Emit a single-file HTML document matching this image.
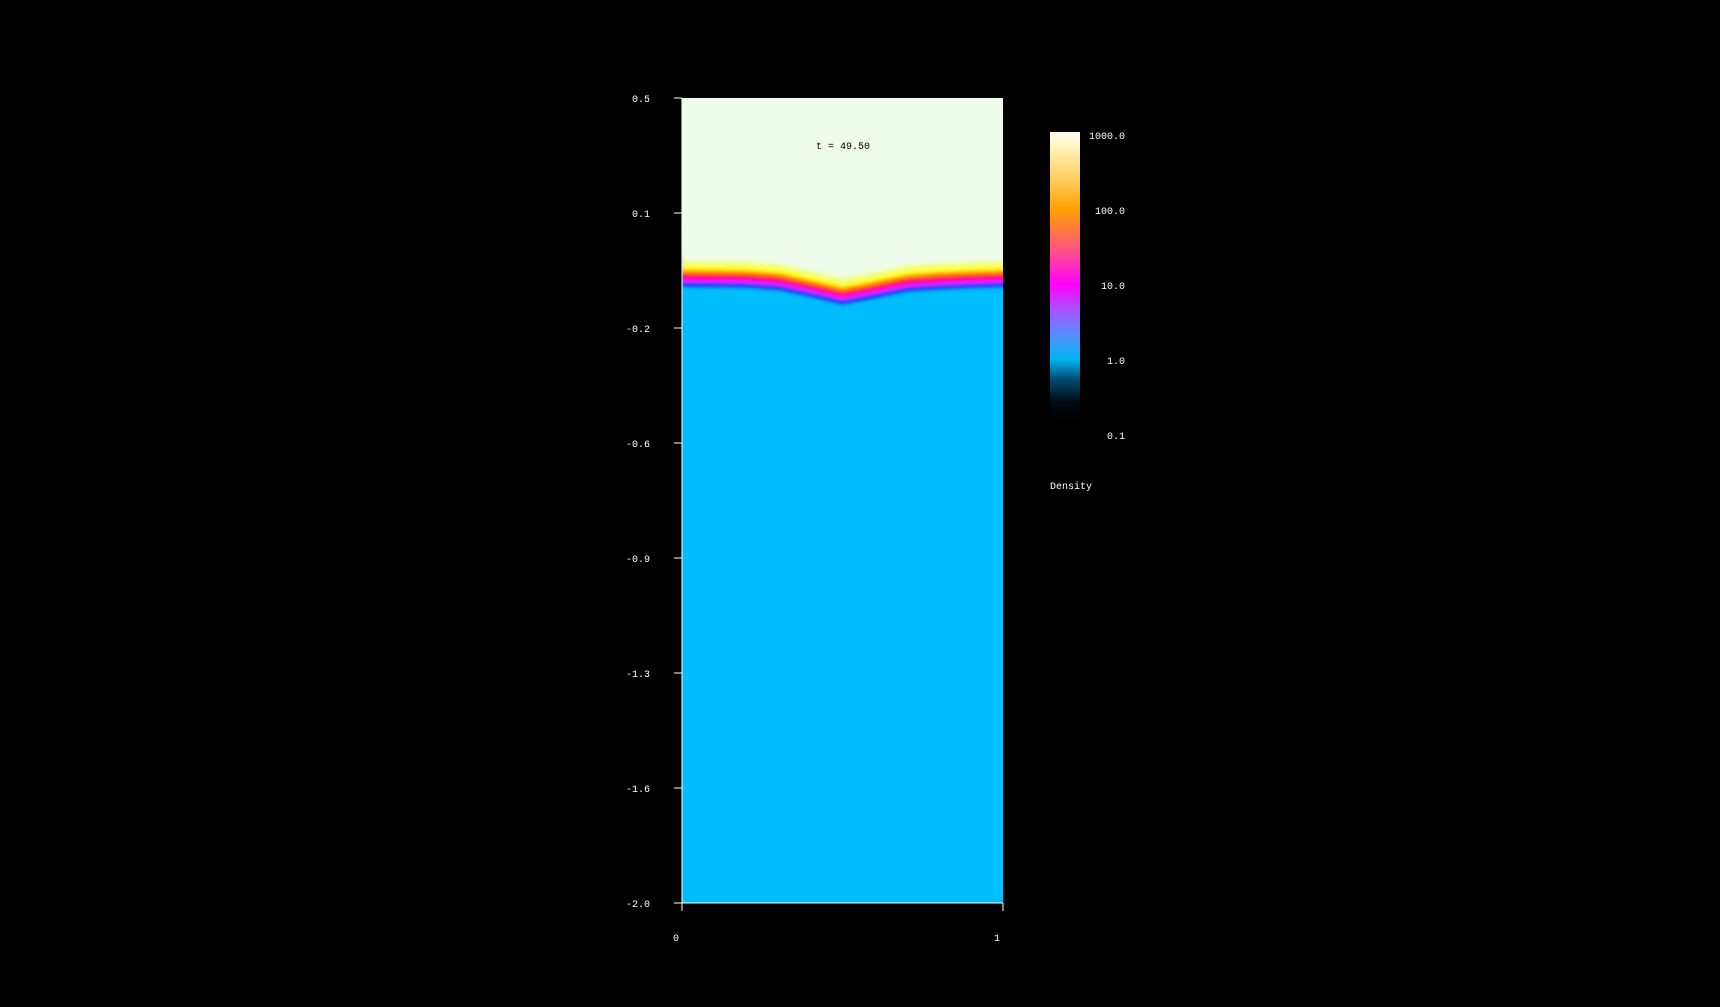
<!DOCTYPE html>
<html><head><meta charset="utf-8"><style>
body{margin:0;background:#000;width:1720px;height:1002px;overflow:hidden}
svg text{font-family:"Liberation Mono",monospace;font-size:10px;fill:#fff}
</style></head><body>
<svg width="1720" height="1002">
<defs>
<linearGradient id="cb" x1="0" y1="1" x2="0" y2="0">
<stop offset="0" stop-color="#000"/><stop offset="0.06" stop-color="#000810"/>
<stop offset="0.14" stop-color="#004a70"/><stop offset="0.21" stop-color="#00b4f0"/>
<stop offset="0.3" stop-color="#5a8cff"/><stop offset="0.39" stop-color="#b04cff"/>
<stop offset="0.47" stop-color="#ff00ff"/><stop offset="0.58" stop-color="#ff4c90"/>
<stop offset="0.66" stop-color="#ff7a40"/><stop offset="0.73" stop-color="#ffa000"/>
<stop offset="0.84" stop-color="#ffd060"/><stop offset="0.95" stop-color="#fff4c0"/>
<stop offset="1" stop-color="#fffcf4"/></linearGradient>
<filter id="bl"><feGaussianBlur stdDeviation="1.5"/></filter>
<clipPath id="pc"><rect x="682" y="98" width="321" height="805"/></clipPath>
</defs>
<g id="plot" clip-path="url(#pc)"></g>
<g id="axes"></g>
<text x="843" y="149" text-anchor="middle" style="fill:#000">t = 49.50</text>
<rect x="1050" y="132" width="30" height="288" fill="url(#cb)"/>
<g id="cbl"></g>
<text x="1050" y="489">Density</text>
</svg>
<script>
const xs=[0,0.1,0.2,0.3,0.4,0.5,0.6,0.7,0.8,0.9,1];
const front=[-0.040,-0.041,-0.043,-0.050,-0.072,-0.095,-0.076,-0.055,-0.048,-0.044,-0.041];
const yTicks=["0.5","0.1","-0.2","-0.6","-0.9","-1.3","-1.6","-2.0"];
const xTicks=["0","1"];
const cbTicks=["1000.0","100.0","10.0","1.0","0.1"];
const NS="http://www.w3.org/2000/svg";
const X=v=>682+v*321, Y=v=>98+(0.5-v)/2.5*805;
function mk(t,a,p){const e=document.createElementNS(NS,t);for(const k in a)e.setAttribute(k,a[k]);p.appendChild(e);return e;}
const plot=document.getElementById('plot');
const bg=mk('rect',{x:682,y:98,width:321,height:805,fill:'#00bdfc'},plot);


const g=mk('g',{filter:'url(#bl)'},plot);
const layers=[[15,'#1a3cff'],[10,'#ff00ff'],[6,'#ff1020'],[2,'#ff9000'],[-2,'#ffff20'],[-7,'#f0ff90'],[-12,'#effbea']];
layers.forEach(([off,col])=>{
 let d='M670,90 ';
 xs.forEach((x,i)=>{d+='L'+X(x)+','+(Y(front[i])+off)+' ';});
 d+='L1015,'+(Y(front[front.length-1])+off)+' L1015,90 Z';
 const p=mk('path',{d:d,fill:col},g);
 
 
});
const ax=document.getElementById('axes');
mk('line',{x1:682,y1:98,x2:682,y2:903,stroke:'#fff'},ax);
mk('line',{x1:682,y1:903,x2:1003,y2:903,stroke:'#fff'},ax);
yTicks.forEach((t,i)=>{const y=98+i*805/(yTicks.length-1);
 mk('line',{x1:674,y1:y,x2:682,y2:y,stroke:'#fff'},ax);
 const e=mk('text',{x:650,y:y+4,'text-anchor':'end'},ax);e.textContent=t;
 
 });
xTicks.forEach((t,i)=>{const x=682+i*321;
 mk('line',{x1:x,y1:903,x2:x,y2:911,stroke:'#fff'},ax);
 const e=mk('text',{x:x-6,y:941,'text-anchor':'middle'},ax);e.textContent=t;
 
 });
const cbl=document.getElementById('cbl');
cbTicks.forEach((t,i)=>{const y=135+i*75;
 const e=mk('text',{x:1125,y:y+4,'text-anchor':'end'},cbl);e.textContent=t;
 
 });
</script>
</body></html>
